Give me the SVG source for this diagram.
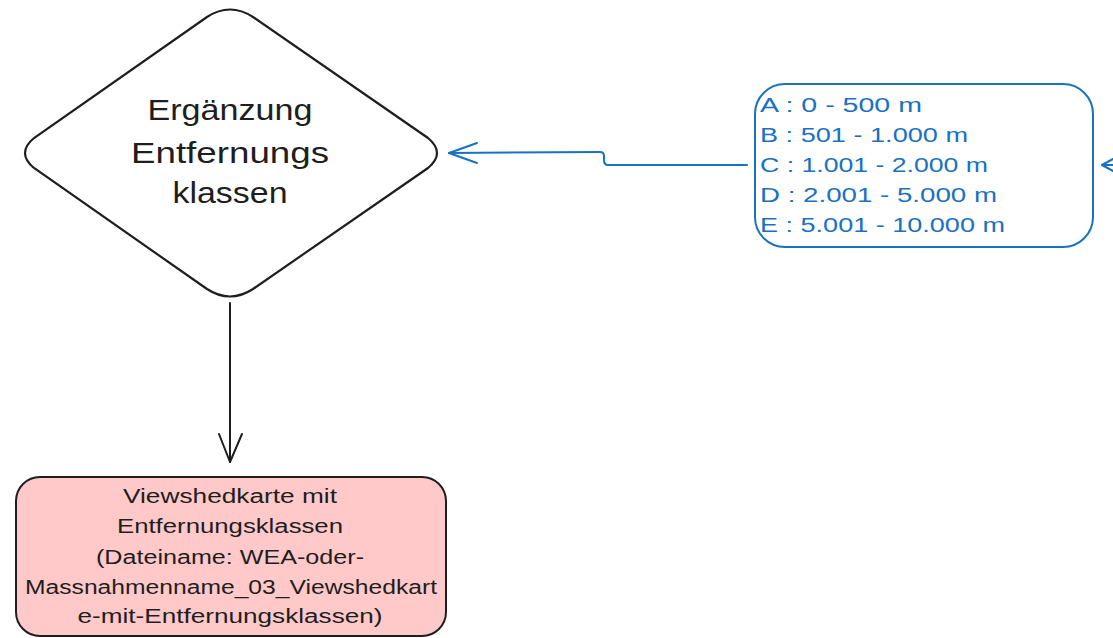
<svg xmlns="http://www.w3.org/2000/svg" width="1113" height="638" viewBox="0 0 1113 638">
<style>
.lbl{font-family:"Liberation Sans","DejaVu Sans",sans-serif;text-anchor:middle;fill:#1e1e1e}
.blue{font-family:"Liberation Sans","DejaVu Sans",sans-serif;fill:#1971c2;font-size:20px}
.pk{font-size:20px}
.big{font-size:29px}
.edge{fill:none;stroke-width:2;stroke-linecap:round;stroke-linejoin:round}
</style>
<rect width="1113" height="638" fill="#ffffff"/>
<g id="node-decision">
<path d="M207,17 Q230,2 253,17 L428,138 Q446,153 428,168 L253,289 Q230,304 207,289 L34,168 Q16,153 34,138 Z" fill="#ffffff" stroke="#1e1e1e" stroke-width="2.2"/>
<text class="lbl big" x="230" y="120" textLength="165" lengthAdjust="spacingAndGlyphs">Ergänzung</text>
<text class="lbl big" x="230" y="163" textLength="198" lengthAdjust="spacingAndGlyphs">Entfernungs</text>
<text class="lbl big" x="230" y="203" textLength="115" lengthAdjust="spacingAndGlyphs">klassen</text>
</g>
<g id="node-classes">
<rect x="755" y="84" width="338" height="163" rx="30" ry="30" fill="#ffffff" stroke="#1971c2" stroke-width="2"/>
<text class="blue" x="760" y="112" textLength="162" lengthAdjust="spacingAndGlyphs">A : 0 - 500 m</text>
<text class="blue" x="760" y="142" textLength="208" lengthAdjust="spacingAndGlyphs">B : 501 - 1.000 m</text>
<text class="blue" x="760" y="172" textLength="228" lengthAdjust="spacingAndGlyphs">C : 1.001 - 2.000 m</text>
<text class="blue" x="760" y="202" textLength="237" lengthAdjust="spacingAndGlyphs">D : 2.001 - 5.000 m</text>
<text class="blue" x="760" y="232" textLength="245" lengthAdjust="spacingAndGlyphs">E : 5.001 - 10.000 m</text>
</g>
<g id="node-result">
<rect x="16" y="477" width="430" height="159" rx="24" ry="24" fill="#ffc9c9" stroke="#1e1e1e" stroke-width="2"/>
<text class="lbl pk" x="230" y="503" textLength="214" lengthAdjust="spacingAndGlyphs">Viewshedkarte mit</text>
<text class="lbl pk" x="230" y="533" textLength="226" lengthAdjust="spacingAndGlyphs">Entfernungsklassen</text>
<text class="lbl pk" x="230" y="564" textLength="268" lengthAdjust="spacingAndGlyphs">(Dateiname: WEA-oder-</text>
<text class="lbl pk" x="231" y="594" textLength="412" lengthAdjust="spacingAndGlyphs">Massnahmenname_03_Viewshedkart</text>
<text class="lbl pk" x="230" y="623" textLength="305" lengthAdjust="spacingAndGlyphs">e-mit-Entfernungsklassen)</text>
</g>
<g id="connectors">
<path class="edge" stroke="#1971c2" d="M747,165 L608,165 Q604,165 604,160 L604,156 Q604,152 600,152 L449,153"/>
<path class="edge" stroke="#1971c2" d="M477,143 L449,153 L477,163"/>
<path class="edge" stroke="#1971c2" d="M1113,165 L1102,165 M1113,159 L1102,165 L1113,171"/>
<path class="edge" stroke="#1e1e1e" d="M230,303 L230,462"/>
<path class="edge" stroke="#1e1e1e" d="M219,434 L230,462 L242,434"/>
</g>
</svg>
